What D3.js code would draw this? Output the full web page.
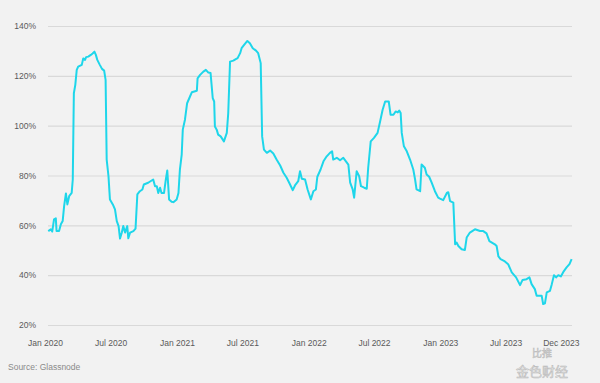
<!DOCTYPE html>
<html>
<head>
<meta charset="utf-8">
<style>
  html, body { margin: 0; padding: 0; background: #f2f2f2; }
  svg { display: block; }
</style>
</head>
<body>
<svg id="chart"></svg>
<script src="https://cdnjs.cloudflare.com/ajax/libs/d3/7.8.5/d3.min.js"></script>
<script>

  // series
  var dates = [
    "2020-01-10","2020-01-17","2020-01-21","2020-01-26","2020-01-31","2020-02-02","2020-02-09","2020-02-14",
    "2020-02-19","2020-02-23","2020-02-28","2020-03-03","2020-03-08","2020-03-15","2020-03-18","2020-03-21",
    "2020-03-25","2020-03-29","2020-04-02","2020-04-12","2020-04-16","2020-04-21","2020-04-24","2020-04-30",
    "2020-05-07","2020-05-12","2020-05-17","2020-05-21","2020-05-25","2020-06-01","2020-06-07","2020-06-13",
    "2020-06-17","2020-06-20","2020-06-25","2020-06-29","2020-07-07","2020-07-13","2020-07-18","2020-07-23",
    "2020-07-27","2020-08-01","2020-08-05","2020-08-10","2020-08-16","2020-08-19","2020-08-24","2020-09-02",
    "2020-09-08","2020-09-13","2020-09-20","2020-09-27","2020-10-01","2020-10-13","2020-10-27","2020-11-01",
    "2020-11-06","2020-11-10","2020-11-15","2020-11-19","2020-11-26","2020-12-01","2020-12-05","2020-12-10",
    "2020-12-17","2020-12-22","2020-12-31","2021-01-05","2021-01-09","2021-01-14","2021-01-17","2021-01-23",
    "2021-01-29","2021-02-06","2021-02-11","2021-02-25","2021-02-27","2021-03-06","2021-03-15","2021-03-22",
    "2021-03-29","2021-04-04","2021-04-10","2021-04-14","2021-04-16","2021-04-21","2021-04-25","2021-05-02",
    "2021-05-11","2021-05-19","2021-05-23","2021-05-28","2021-06-06","2021-06-13","2021-06-18","2021-06-25",
    "2021-06-29","2021-07-06","2021-07-15","2021-07-22","2021-07-30","2021-08-08","2021-08-14","2021-08-21",
    "2021-08-25","2021-08-30","2021-09-07","2021-09-16","2021-09-25","2021-10-04","2021-10-14","2021-10-23",
    "2021-11-01","2021-11-08","2021-11-18","2021-11-24","2021-12-03","2021-12-08","2021-12-13","2021-12-22",
    "2021-12-29","2022-01-07","2022-01-14","2022-01-21","2022-01-25","2022-02-03","2022-02-11","2022-02-20",
    "2022-03-01","2022-03-07","2022-03-10","2022-03-20","2022-03-29","2022-04-07","2022-04-21","2022-04-26",
    "2022-05-03","2022-05-07","2022-05-14","2022-05-21","2022-05-26","2022-06-04","2022-06-11","2022-06-15",
    "2022-06-22","2022-07-01","2022-07-11","2022-07-18","2022-07-25","2022-08-01","2022-08-11","2022-08-16",
    "2022-08-24","2022-08-30","2022-09-05","2022-09-09","2022-09-13","2022-09-16","2022-09-22","2022-09-30",
    "2022-10-09","2022-10-18","2022-10-23","2022-10-27","2022-11-06","2022-11-10","2022-11-19","2022-11-24",
    "2022-12-01","2022-12-08","2022-12-17","2022-12-26","2022-12-31","2023-01-09","2023-01-19","2023-01-23",
    "2023-01-28","2023-02-06","2023-02-11","2023-02-15","2023-02-20","2023-03-01","2023-03-10","2023-03-15",
    "2023-03-24","2023-04-07","2023-04-21","2023-04-30","2023-05-09","2023-05-17","2023-06-01","2023-06-06",
    "2023-06-11","2023-06-17","2023-06-29","2023-07-08","2023-07-18","2023-07-30","2023-08-10","2023-08-17",
    "2023-08-28","2023-09-05","2023-09-11","2023-09-20","2023-09-25","2023-10-09","2023-10-13","2023-10-18",
    "2023-10-23","2023-11-01","2023-11-06","2023-11-12","2023-11-18","2023-11-24","2023-12-01","2023-12-08",
    "2023-12-17","2023-12-25","2023-12-31"
  ];
  var values = [
    57.7, 58.4, 57.5, 62.4, 62.8, 57.7, 57.7, 60.4,
    61.7, 67.7, 72.8, 68.4, 71.7, 73.0, 78.4, 113.0,
    116.4, 122.4, 123.7, 124.4, 127.0, 126.4, 127.5, 127.7,
    128.4, 129.0, 129.7, 128.4, 126.4, 124.4, 122.8, 122.1,
    118.4, 86.4, 79.7, 70.4, 68.4, 66.4, 61.7, 59.7,
    54.7, 57.1, 59.7, 57.1, 59.7, 54.8, 57.1, 57.7,
    58.7, 72.4, 73.7, 74.4, 76.4, 77.1, 78.4, 75.7,
    75.7, 73.0, 75.1, 73.0, 73.0, 78.4, 82.0, 70.4,
    69.5, 69.3, 70.4, 73.0, 82.4, 88.4, 98.4, 102.4,
    109.0, 111.7, 113.4, 114.0, 119.0, 120.4, 121.7, 122.4,
    121.3, 121.1, 111.1, 109.7, 99.7, 98.4, 96.4, 95.7,
    93.7, 97.1, 105.1, 125.7, 126.1, 126.7, 127.1, 129.1,
    131.1, 132.4, 134.0, 133.1, 131.1, 130.1, 129.1, 125.1,
    95.7, 90.4, 89.1, 90.0, 88.8, 86.4, 84.0, 81.1,
    79.1, 77.1, 74.1, 76.0, 77.7, 81.7, 78.7, 78.4,
    74.4, 70.4, 73.7, 74.4, 79.5, 82.4, 85.7, 87.7,
    89.1, 89.7, 86.4, 87.1, 86.1, 87.1, 84.4, 77.1,
    74.4, 71.1, 81.7, 79.7, 75.7, 75.1, 74.7, 83.1,
    93.7, 95.1, 97.1, 101.7, 106.4, 109.7, 109.7, 104.4,
    104.4, 105.7, 105.3, 106.1, 105.1, 97.1, 91.7, 89.7,
    86.4, 82.4, 78.4, 74.4, 73.7, 84.4, 83.1, 80.4,
    79.5, 77.1, 73.7, 71.1, 70.7, 70.1, 73.0, 73.3,
    69.7, 69.1, 52.4, 53.1, 51.7, 50.4, 50.1, 55.1,
    57.1, 58.4, 57.7, 57.7, 56.8, 53.7, 52.4, 51.7,
    47.5, 46.4, 45.5, 44.4, 41.1, 39.1, 36.0, 38.1,
    38.4, 39.1, 36.4, 34.4, 31.7, 31.7, 28.4, 28.7,
    33.1, 33.7, 36.4, 40.0, 39.1, 40.0, 39.5, 41.3,
    43.1, 44.4, 46.4
  ];

  var yTicks     = [20, 40, 60, 80, 100, 120, 140];
  var xTickDates = ["2020-01-01","2020-07-01","2021-01-01","2021-07-01","2022-01-01",
                    "2022-07-01","2023-01-01","2023-07-01","2023-12-01"];
  var xTickNames = ["Jan 2020","Jul 2020","Jan 2021","Jul 2021","Jan 2022",
                    "Jul 2022","Jan 2023","Jul 2023","Dec 2023"];

  var width  = 600,
      height = 383,
      gridLeft  = 48,
      gridRight = 572,
      lineColor = '#1ed6ea',
      font      = '"Liberation Sans", Arial, sans-serif';

  var parse = d3.utcParse('%Y-%m-%d');
  var data  = dates.map(function(d, i) { return { date: parse(d), value: values[i] }; });

  var x = d3.scaleUtc()
            .domain([parse('2020-01-01'), parse('2024-01-01')])
            .range([45, 572]);
  var y = d3.scaleLinear()
            .domain([20, 140])
            .range([325, 26]);

  var svg = d3.select('#chart')
              .attr('width', width)
              .attr('height', height)
              .style('font-family', font);

  svg.append('rect')
     .attr('width', width)
     .attr('height', height)
     .attr('fill', '#f2f2f2');

  // horizontal grid + percent labels
  var yAxis = d3.axisLeft(y)
                .tickValues(yTicks)
                .tickSize(-(gridRight - gridLeft))
                .tickPadding(12)
                .tickFormat(function(d) { return d + '%'; });

  var gy = svg.append('g')
              .attr('transform', 'translate(' + gridLeft + ',0)')
              .call(yAxis);
  gy.select('.domain').remove();
  gy.selectAll('.tick line').attr('stroke', '#d9d9d9').attr('stroke-width', 1.2);
  gy.selectAll('.tick text')
    .attr('fill', '#5a5a5a')
    .attr('font-size', 8.5)
    .attr('font-family', font);

  // date labels, no ticks
  var xAxis = d3.axisBottom(x)
                .tickValues(xTickDates.map(parse))
                .tickSize(0)
                .tickPadding(0)
                .tickFormat(function(d, i) { return xTickNames[i]; });

  var gx = svg.append('g')
              .attr('transform', 'translate(0,340)')
              .call(xAxis);
  gx.select('.domain').remove();
  gx.selectAll('.tick text')
    .attr('fill', '#5a5a5a')
    .attr('font-size', 8.5)
    .attr('font-family', font);

  // the line
  var line = d3.line()
               .x(function(d) { return x(d.date); })
               .y(function(d) { return y(d.value); })
               .curve(d3.curveLinear);

  svg.append('path')
     .datum(data)
     .attr('d', line)
     .attr('fill', 'none')
     .attr('stroke', lineColor)
     .attr('stroke-width', 2)
     .attr('stroke-linejoin', 'round');

  svg.append('text')
     .attr('x', 8)
     .attr('y', 370)
     .attr('fill', '#8a8a8a')
     .attr('font-size', 8.5)
     .text('Source: Glassnode');

  // watermark
  svg.append('text')
     .attr('x', 532)
     .attr('y', 357)
     .attr('fill', '#e6e6e6')
     .attr('stroke', '#b8b8b8')
     .attr('stroke-width', 0.5)
     .attr('font-size', 10)
     .attr('font-family', '"Noto Sans CJK SC", sans-serif')
     .text('比推');
  svg.append('text')
     .attr('x', 516)
     .attr('y', 376)
     .attr('fill', '#e6e6e6')
     .attr('stroke', '#b8b8b8')
     .attr('stroke-width', 0.5)
     .attr('font-size', 13)
     .attr('font-family', '"Noto Sans CJK SC", sans-serif')
     .text('金色财经');

</script>
</body>
</html>
